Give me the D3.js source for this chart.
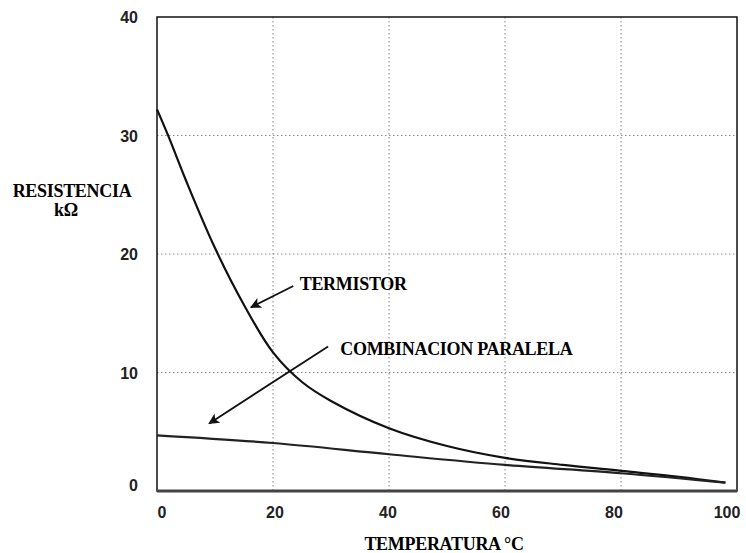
<!doctype html>
<html>
  <head>
    <meta charset="utf-8" />
    <title>Resistencia vs temperatura</title>
    <style>
      body { margin: 0; background: #fff; }
      svg { display: block; }
      .tick-label { font-family: "Liberation Sans", Arial, sans-serif; font-weight: bold; font-size: 16px; fill: #222; }
      .title { font-family: "Liberation Serif", "Times New Roman", serif; font-weight: bold; font-size: 18px; fill: #000; letter-spacing: -0.3px; }
    </style>
  </head>
  <body>
    <svg id="chart" width="746" height="553"></svg>
    <script src="https://d3js.org/d3.v7.min.js"></script>
    <script>
      // values
      const tempTicks = [0, 20, 40, 60, 80, 100];
      const resTicks = [0, 10, 20, 30, 40];
      const termistorT = [0, 2, 5, 10, 15, 20, 25, 30, 40, 50, 60, 70, 80, 90, 98];
      const termistorR = [32.2, 29.9, 26.2, 20.5, 15.7, 11.7, 9.2, 7.6, 5.3, 3.8, 2.8, 2.2, 1.7, 1.2, 0.7];
      const paraleloT = [0, 20, 40, 60, 80, 98];
      const paraleloR = [4.7, 4.05, 3.1, 2.2, 1.5, 0.7];

      const svg = d3.select("#chart");

      const x = d3.scaleLinear().domain([0, 100]).range([157, 737]);
      const y = d3.scaleLinear().domain([0, 40]).range([491, 17]);
      // the printed tick numbers sit a bit inside the gridlines
      const xLab = d3.scaleLinear().domain([0, 100]).range([162, 727]);

      // grid
      const grid = svg.append("g").attr("stroke", "#888").attr("stroke-width", 1).attr("stroke-dasharray", "1.5,2.5");
      grid.selectAll("line.v").data(tempTicks.filter(d => d > 0 && d < 100)).enter().append("line")
        .attr("x1", d => x(d)).attr("x2", d => x(d)).attr("y1", y(40)).attr("y2", y(0));
      grid.selectAll("line.h").data(resTicks.filter(d => d > 0 && d < 40)).enter().append("line")
        .attr("x1", x(0)).attr("x2", x(100)).attr("y1", d => y(d)).attr("y2", d => y(d));

      // frame
      svg.append("rect")
        .attr("x", x(0)).attr("y", y(40))
        .attr("width", x(100) - x(0)).attr("height", y(0) - y(40))
        .attr("fill", "none").attr("stroke", "#111").attr("stroke-width", 1.5);
      svg.append("line")
        .attr("x1", x(0)).attr("x2", x(100)).attr("y1", y(0)).attr("y2", y(0))
        .attr("stroke", "#444").attr("stroke-width", 3);

      // tick labels
      svg.append("g").selectAll("text").data(tempTicks).enter().append("text")
        .attr("class", "tick-label").attr("x", d => xLab(d)).attr("y", 518)
        .attr("text-anchor", "middle").text(d => d);
      svg.append("g").selectAll("text").data(resTicks).enter().append("text")
        .attr("class", "tick-label").attr("x", 138).attr("y", d => (d === 0 ? y(d) - 6 : y(d)) + 6)
        .attr("text-anchor", "end").text(d => d);

      // curves
      const line = d3.line().x(d => x(d[0])).y(d => y(d[1])).curve(d3.curveCatmullRom.alpha(0.5));
      svg.append("path")
        .datum(termistorT.map((t, i) => [t, termistorR[i]]))
        .attr("d", line).attr("fill", "none").attr("stroke", "#111").attr("stroke-width", 2.2);
      svg.append("path")
        .datum(paraleloT.map((t, i) => [t, paraleloR[i]]))
        .attr("d", line).attr("fill", "none").attr("stroke", "#222").attr("stroke-width", 2.2);

      // arrows
      svg.append("defs").append("marker")
        .attr("id", "head").attr("viewBox", "0 0 10 10").attr("refX", 9).attr("refY", 5)
        .attr("markerWidth", 11).attr("markerHeight", 11).attr("markerUnits", "userSpaceOnUse")
        .attr("orient", "auto")
        .append("path").attr("d", "M0,0 L10,5 L0,10 L2.5,5 Z").attr("fill", "#111");
      // arrow ends given in data units
      const arrows = [
        { from: [23.5, 17.3], to: [16.2, 15.5] },
        { from: [29.5, 12.2], to: [9, 5.7] }
      ];
      svg.append("g").selectAll("line").data(arrows).enter().append("line")
        .attr("x1", d => x(d.from[0])).attr("y1", d => y(d.from[1]))
        .attr("x2", d => x(d.to[0])).attr("y2", d => y(d.to[1]))
        .attr("stroke", "#111").attr("stroke-width", 1.8).attr("marker-end", "url(#head)");

      // annotations
      svg.append("text").attr("class", "title").attr("x", x(24.6)).attr("y", 290).text("TERMISTOR");
      svg.append("text").attr("class", "title").attr("x", x(31.6)).attr("y", 355).text("COMBINACION PARALELA");

      // axis titles
      svg.append("text").attr("class", "title").attr("x", 72).attr("y", 197)
        .attr("text-anchor", "middle").text("RESISTENCIA");
      svg.append("text").attr("class", "title").attr("x", 66).attr("y", 216)
        .attr("text-anchor", "middle").text("kΩ");
      svg.append("text").attr("class", "title").attr("x", 444).attr("y", 550)
        .attr("text-anchor", "middle").text("TEMPERATURA °C");
    </script>
  </body>
</html>
